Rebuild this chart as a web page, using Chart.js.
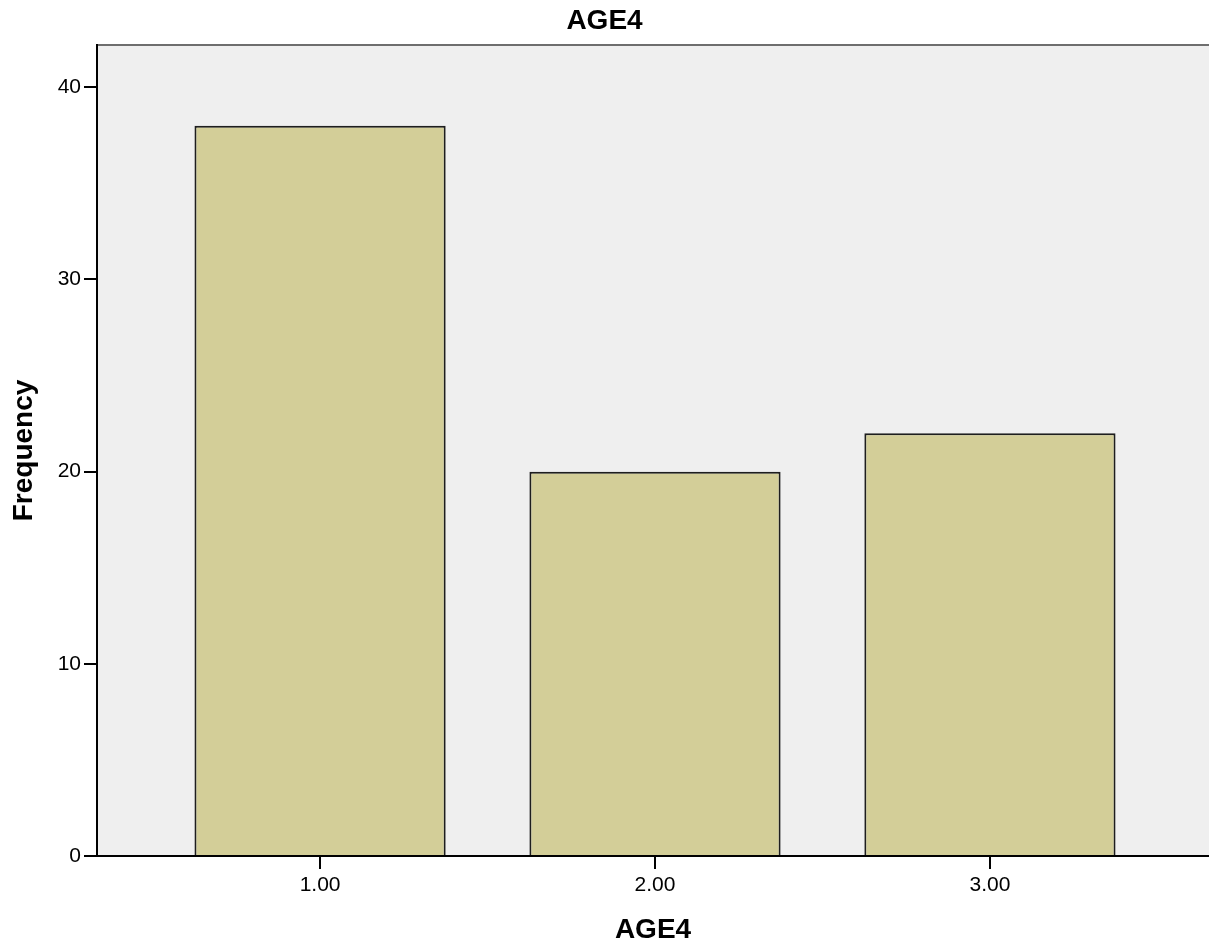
<!DOCTYPE html>
<html>
<head>
<meta charset="utf-8">
<script src="https://cdn.jsdelivr.net/npm/chart.js@4/dist/chart.umd.min.js"></script>
<style>
html,body{margin:0;padding:0;background:#fff;}
#wrap{width:1209px;height:947px;position:relative;}
</style>
</head>
<body>
<div id="wrap"><canvas id="c" width="1209" height="947"></canvas></div>
<script>
const categories = [1, 2, 3];
const frequencies = [38, 20, 22];
const yTicks = [0, 10, 20, 30, 40];
const xTicks = [1, 2, 3];
const chartTitle = 'AGE4';
const xTitle = 'AGE4';
const yTitle = 'Frequency';

const FONT = '"Liberation Sans", Arial, sans-serif';

const bgPlugin = {
  id: 'plotBg',
  beforeDraw(chart) {
    const {ctx, chartArea: a} = chart;
    ctx.save();
    ctx.fillStyle = '#efefef';
    ctx.fillRect(a.left, a.top, a.right - a.left, a.bottom - a.top);
    ctx.strokeStyle = '#6e6e6e';
    ctx.lineWidth = 2;
    ctx.beginPath();
    ctx.moveTo(a.left, a.top);
    ctx.lineTo(a.right, a.top);
    ctx.stroke();
    ctx.restore();
  }
};

new Chart(document.getElementById('c'), {
  type: 'bar',
  data: {
    datasets: [{
      data: categories.map((c, i) => ({x: c, y: frequencies[i]})),
      backgroundColor: '#d3ce98',
      borderColor: '#1e1e1e',
      borderWidth: 2,
      categoryPercentage: 1,
      barPercentage: 0.75
    }]
  },
  options: {
    responsive: false,
    animation: false,
    layout: {padding: 0},
    plugins: {
      legend: {display: false},
      tooltip: {enabled: false},
      title: {
        display: true,
        text: chartTitle,
        color: '#000',
        font: {family: FONT, size: 28, weight: 'bold', lineHeight: 1.2},
        padding: {top: 4, bottom: 7.4}
      }
    },
    scales: {
      x: {
        type: 'linear',
        offset: false,
        min: 0.334,
        max: 3.654,
        afterBuildTicks(s) { s.ticks = xTicks.map(v => ({value: v})); },
        afterFit(s) { s.height = 91; },
        ticks: {
          color: '#000',
          font: {family: FONT, size: 21},
          padding: 4,
          maxRotation: 0,
          callback: v => Number(v).toFixed(2)
        },
        grid: {drawOnChartArea: false, offset: false, tickLength: 13, color: '#000', lineWidth: 2},
        border: {color: '#000', width: 2},
        title: {
          display: true,
          text: xTitle,
          color: '#000',
          font: {family: FONT, size: 28, weight: 'bold', lineHeight: 1.2},
          padding: {top: 0, bottom: 0}
        }
      },
      y: {
        min: 0,
        max: 42.2,
        afterBuildTicks(s) { s.ticks = yTicks.map(v => ({value: v})); },
        afterFit(s) { s.width = 97; },
        ticks: {
          color: '#000',
          font: {family: FONT, size: 21},
          padding: 3
        },
        grid: {drawOnChartArea: false, tickLength: 13, color: '#000', lineWidth: 2},
        border: {color: '#000', width: 2},
        title: {
          display: true,
          text: yTitle,
          color: '#000',
          font: {family: FONT, size: 28, weight: 'bold', lineHeight: 1.2},
          padding: {top: 7, bottom: 0}
        }
      }
    }
  },
  plugins: [bgPlugin]
});
</script>
</body>
</html>
